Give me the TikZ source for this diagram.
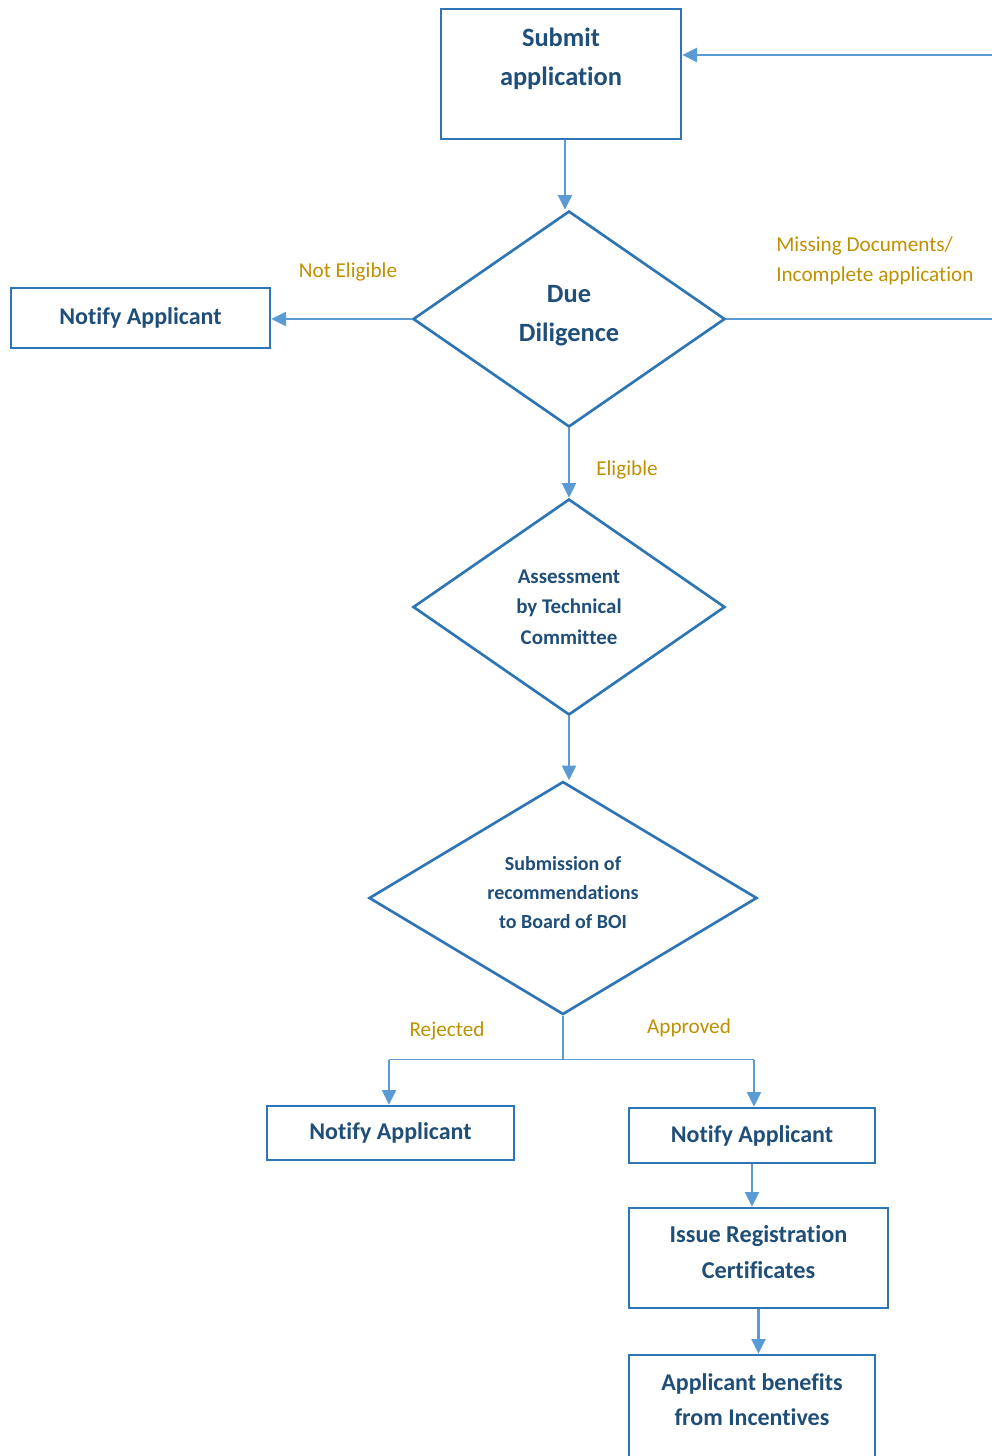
\documentclass[tikz,border=0pt]{standalone}
\usepackage{fontspec}
\setmainfont{Carlito}[Ligatures=NoCommon]
\usetikzlibrary{shapes.geometric,arrows.meta,calc}
\definecolor{txtblue}{HTML}{1F4E79}
\definecolor{boxblue}{HTML}{2E75B6}
\definecolor{arrblue}{HTML}{5B9BD5}
\definecolor{lblgold}{HTML}{BF9000}
\begin{document}
\begin{tikzpicture}[x=0.75pt,y=-0.75pt,
  box/.style={draw=boxblue, line width=2pt, fill=white, text=txtblue, align=center, inner sep=0pt},
  dia/.style={diamond, draw=boxblue, line width=2pt, text=txtblue, align=center, inner sep=0pt},
  txt/.style={text=txtblue, align=center, inner sep=0pt},
  arr/.style={draw=arrblue, line width=1.7pt, -{Triangle[width=10.5pt,length=11pt]}},
  thinline/.style={draw=arrblue, line width=0.8pt},
  lbl/.style={text=lblgold, font=\fontsize{15.9}{23}\selectfont, align=left, inner sep=0pt}]
\useasboundingbox (0,0) rectangle (992,1456);

% boxes and decisions
\node[box, minimum width=180pt, minimum height=97.5pt] (submit) at (561,74) {};
\node[txt, font=\bfseries\fontsize{19.8}{29}\selectfont] (submitt) at (561,59) {Submit\\application};
\node[box, minimum width=194.25pt, minimum height=45pt, font=\bfseries\fontsize{18}{26}\selectfont]
  (n1) at (140.5,318) {Notify Applicant};
\node[dia, minimum width=234pt, minimum height=162pt] (dd) at (569,319) {};
\node[txt, font=\bfseries\fontsize{19.8}{29}\selectfont] (ddt) at (569,316) {Due\\Diligence};
\node[dia, minimum width=234pt, minimum height=162pt, font=\bfseries\fontsize{15.7}{23}\selectfont]
  (asm) at (569,607) {Assessment\\by Technical\\Committee};
\node[dia, minimum width=291pt, minimum height=174.75pt] (sub) at (563,898) {};
\node[txt, font=\bfseries\fontsize{15}{21.75}\selectfont] (subt) at (563,893) {Submission of\\recommendations\\to Board of BOI};
\node[box, minimum width=185.25pt, minimum height=40.5pt, font=\bfseries\fontsize{18}{26}\selectfont]
  (n2) at (390.5,1133) {Notify Applicant};
\node[box, minimum width=184.5pt, minimum height=41.25pt, font=\bfseries\fontsize{18}{26}\selectfont]
  (n3) at (752,1135.5) {Notify Applicant};
\node[box, minimum width=194.25pt, minimum height=75pt] (issue) at (758.5,1258) {};
\node[txt, font=\bfseries\fontsize{18.2}{27}\selectfont] (issuet) at (758.5,1252.5) {Issue Registration\\Certificates};
\node[box, minimum width=184.5pt, minimum height=123.75pt] (ben) at (752,1437.5) {};
\node[txt, font=\bfseries\fontsize{18}{26}\selectfont] (bent) at (752,1399.5) {Applicant benefits\\from Incentives};

% labels
\node[lbl] (lne) at (348,272) {Not Eligible};
\node[lbl, anchor=west] (lmiss) at (776,261) {Missing Documents/\\Incomplete application};
\node[lbl] (lel) at (627,470) {Eligible};
\node[lbl] (lrej) at (447,1031) {Rejected};
\node[lbl] (lapp) at (689,1028) {Approved};

% connectors
\coordinate (loopin) at ($(submit.east)+(0,-19)$);
\coordinate (loopx) at (1002,0);
\coordinate (subout) at ($(submit.south)+(4,0)$);
\draw[arr] (subout) -- (subout |- dd.north);
\draw[arr] (dd.west) -- (dd.west -| n1.east);
\draw[arr] (dd.east) -- (dd.east -| loopx) |- (loopin);
\draw[arr] (dd.south) -- (asm.north);
\draw[arr] (asm.south) -- (asm.south |- sub.north);

\coordinate (br) at ($(sub.south)+(0,44)$);
\coordinate (bl) at (389,0);
\coordinate (brr) at (754,0);
\draw[thinline] (sub.south) -- (br);
\draw[thinline] (br -| bl) -- (br -| brr);
\draw[arr] (br -| bl) -- (bl |- n2.north);
\draw[arr] (br -| brr) -- (brr |- n3.north);

\draw[arr] (n3.south) -- (n3.south |- issue.north);
\draw[arr] (issue.south) -- (issue.south |- ben.north);
\end{tikzpicture}
\end{document}
